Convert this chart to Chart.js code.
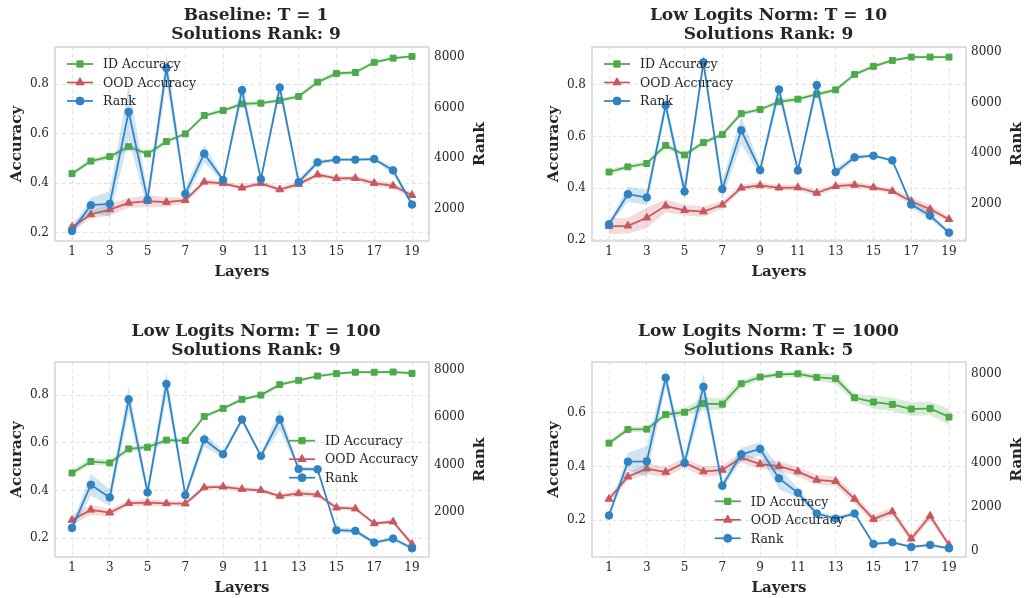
<!DOCTYPE html>
<html><head><meta charset="utf-8">
<script src="https://cdn.jsdelivr.net/npm/chart.js@4.4.0/dist/chart.umd.min.js"></script>
<style>
body{margin:0;background:#fff;width:1025px;height:598px;overflow:hidden;position:relative}
canvas{position:absolute;display:block}
</style>
</head><body>
<canvas id="c0"></canvas><canvas id="c1"></canvas><canvas id="c2"></canvas><canvas id="c3"></canvas>
<script>
// ---------------- data ----------------
const layers = [1,2,3,4,5,6,7,8,9,10,11,12,13,14,15,16,17,18,19];
const xTickValues = [1,3,5,7,9,11,13,15,17,19];
const accTicksA = [0.2,0.4,0.6,0.8];
const accTicksB = [0.2,0.4,0.6];
const rankTicksA = [2000,4000,6000,8000];
const rankTicksB = [0,2000,4000,6000,8000];
const seriesNames = ["ID Accuracy","OOD Accuracy","Rank"];
const titles = [
  ["Baseline: T = 1","Solutions Rank: 9"],
  ["Low Logits Norm: T = 10","Solutions Rank: 9"],
  ["Low Logits Norm: T = 100","Solutions Rank: 9"],
  ["Low Logits Norm: T = 1000","Solutions Rank: 5"]
];

// Panel 1: Baseline T = 1
const id1 = [0.438,0.489,0.507,0.547,0.518,0.568,0.599,0.673,0.693,0.720,0.723,0.734,0.750,0.808,0.843,0.847,0.888,0.905,0.912];
const idStd1 = [0.010,0.010,0.012,0.012,0.010,0.010,0.008,0.008,0.008,0.010,0.008,0.008,0.010,0.010,0.010,0.008,0.008,0.006,0.006];
const ood1 = [0.223,0.273,0.293,0.320,0.327,0.323,0.331,0.405,0.399,0.381,0.399,0.374,0.396,0.434,0.419,0.420,0.400,0.389,0.351];
const oodStd1 = [0.020,0.015,0.025,0.020,0.025,0.020,0.012,0.012,0.010,0.010,0.010,0.010,0.010,0.010,0.010,0.010,0.012,0.012,0.010];
const rank1 = [1113,2132,2185,5828,2344,7563,2583,4172,3126,6689,3166,6795,3046,3828,3934,3934,3960,3510,2159];
const rankStd1 = [120,300,500,1100,350,600,250,350,100,400,100,300,150,100,60,60,60,150,100];

// Panel 2: T = 10
const id2 = [0.462,0.482,0.495,0.565,0.528,0.576,0.607,0.688,0.704,0.734,0.744,0.763,0.780,0.840,0.871,0.894,0.907,0.907,0.907];
const idStd2 = [0.010,0.010,0.010,0.010,0.010,0.010,0.010,0.010,0.008,0.010,0.008,0.010,0.008,0.008,0.008,0.006,0.006,0.006,0.006];
const ood2 = [0.252,0.254,0.285,0.331,0.314,0.309,0.335,0.401,0.410,0.401,0.402,0.381,0.407,0.412,0.402,0.388,0.349,0.318,0.279];
const oodStd2 = [0.030,0.030,0.040,0.025,0.020,0.020,0.015,0.012,0.012,0.010,0.012,0.010,0.012,0.012,0.010,0.010,0.015,0.015,0.010];
const rank2 = [1179,2371,2238,5894,2477,7589,2570,4901,3325,6517,3311,6689,3245,3828,3894,3709,1960,1523,848];
const rankStd2 = [100,300,300,300,350,300,350,550,200,350,100,350,150,100,60,60,150,150,80];

// Panel 3: T = 100
const id3 = [0.474,0.522,0.516,0.575,0.582,0.612,0.610,0.711,0.745,0.783,0.801,0.845,0.863,0.881,0.891,0.897,0.897,0.898,0.892];
const idStd3 = [0.012,0.015,0.012,0.010,0.015,0.010,0.008,0.008,0.008,0.008,0.008,0.008,0.006,0.006,0.006,0.006,0.006,0.006,0.006];
const ood3 = [0.276,0.319,0.307,0.347,0.349,0.346,0.345,0.413,0.416,0.406,0.401,0.377,0.388,0.383,0.328,0.324,0.262,0.269,0.175];
const oodStd3 = [0.020,0.022,0.015,0.012,0.015,0.010,0.010,0.010,0.010,0.010,0.008,0.010,0.012,0.010,0.010,0.008,0.008,0.008,0.012];
const rank3 = [1322,3144,2607,6746,2819,7395,2706,5051,4429,5898,4359,5898,3808,3794,1223,1195,701,870,460];
const rankStd3 = [150,450,350,550,250,550,150,300,150,100,100,450,100,80,100,100,80,80,80];

// Panel 4: T = 1000
const id4 = [0.487,0.538,0.539,0.593,0.602,0.634,0.632,0.708,0.733,0.743,0.745,0.732,0.727,0.656,0.640,0.631,0.614,0.616,0.584];
const idStd4 = [0.010,0.010,0.010,0.012,0.015,0.025,0.020,0.015,0.010,0.010,0.010,0.012,0.020,0.015,0.025,0.025,0.025,0.025,0.030];
const ood4 = [0.279,0.362,0.392,0.379,0.414,0.381,0.387,0.433,0.409,0.401,0.381,0.350,0.345,0.279,0.204,0.232,0.131,0.216,0.108];
const oodStd4 = [0.015,0.015,0.020,0.020,0.018,0.020,0.018,0.018,0.018,0.018,0.018,0.018,0.018,0.018,0.015,0.015,0.015,0.015,0.012];
const rank4 = [1604,4039,4054,7837,3979,7428,2950,4372,4614,3283,2632,1694,1467,1694,318,393,182,272,121];
const rankStd4 = [100,400,700,400,300,600,200,300,300,500,200,120,100,80,80,60,60,60,60];

// ---------------- layout / style ----------------
const GREEN = '#4daa4a', RED = '#c8585b', BLUE = '#2f83c3';
const FONT = "'DejaVu Serif', serif";
const TXT = '#262626';
const TITLE_SIZE = 17, TITLE_LH = 1.12, AXT_SIZE = 15, TICK_SIZE = 12, LEG_SIZE = 12.5;

const panels = [
  {canvas:{left:0,top:0,w:512,h:299}, area:{l:55,t:47,r:429,b:241}, padBottom:17, titleY:15.2, accTitleX:17,
   accRange:[0.166,0.95], accTicks:accTicksA, rankRange:[715,8397], rankTicks:rankTicksA,
   legend:{x:12,y:17}, id:id1, idStd:idStd1, ood:ood1, oodStd:oodStd1, rank:rank1, rankStd:rankStd1},
  {canvas:{left:512,top:0,w:513,h:299}, area:{l:80,t:47,r:454,b:241}, padBottom:17, titleY:15.2, accTitleX:42,
   accRange:[0.195,0.946], accTicks:accTicksA, rankRange:[517,8199], rankTicks:rankTicksA,
   legend:{x:12,y:17}, id:id2, idStd:idStd2, ood:ood2, oodStd:oodStd2, rank:rank2, rankStd:rankStd2},
  {canvas:{left:0,top:299,w:512,h:299}, area:{l:55,t:63,r:429,b:258}, padBottom:0, titleY:32.8, accTitleX:17,
   accRange:[0.121,0.940], accTicks:accTicksA, rankRange:[93,8325], rankTicks:rankTicksA,
   legend:{x:234,y:78.7}, id:id3, idStd:idStd3, ood:ood3, oodStd:oodStd3, rank:rank3, rankStd:rankStd3},
  {canvas:{left:512,top:299,w:513,h:299}, area:{l:80,t:63,r:454,b:258}, padBottom:0, titleY:32.8, accTitleX:42,
   accRange:[0.063,0.789], accTicks:accTicksB, rankRange:[-272,8548], rankTicks:rankTicksB,
   legend:{x:122.7,y:139.3}, id:id4, idStd:idStd4, ood:ood4, oodStd:oodStd4, rank:rank4, rankStd:rankStd4}
];

function rgba(hex,a){const n=parseInt(hex.slice(1),16);return `rgba(${n>>16&255},${n>>8&255},${n&255},${a})`;}
function pts(arr){return layers.map((l,i)=>({x:l,y:arr[i]}));}
function band(arr,sd,s){return layers.map((l,i)=>({x:l,y:arr[i]+s*sd[i]}));}

const extras = {
  id:'extras',
  afterDatasetsDraw(chart){
    const p = chart.options.plugins.extras;
    const {ctx, chartArea:a} = chart;
    ctx.save();
    // frame
    ctx.strokeStyle = '#cccccc'; ctx.lineWidth = 1.25;
    ctx.strokeRect(a.left, a.top, a.right-a.left, a.bottom-a.top);
    // legend
    const styles = [
      {c:GREEN, ps:'rect', r:4.4},
      {c:RED, ps:'triangle', r:4.7},
      {c:BLUE, ps:'circle', r:4}
    ];
    ctx.font = `${LEG_SIZE}px ${FONT}`;
    ctx.textBaseline = 'middle'; ctx.textAlign = 'left';
    styles.forEach((s,i)=>{
      const y = a.top + p.legend.y + i*18.5;
      const x0 = a.left + p.legend.x;
      ctx.strokeStyle = s.c; ctx.lineWidth = 1.75;
      ctx.beginPath(); ctx.moveTo(x0,y); ctx.lineTo(x0+26,y); ctx.stroke();
      ctx.fillStyle = s.c; ctx.strokeStyle = s.c; ctx.lineWidth = 1;
      Chart.helpers.drawPoint(ctx,{pointStyle:s.ps, radius:s.r, rotation:0, borderWidth:1}, x0+13, y);
      ctx.fillStyle = TXT;
      ctx.fillText(seriesNames[i], x0+36, y+1);
    });
    // right axis title
    ctx.translate(a.right+51, (a.top+a.bottom)/2);
    ctx.rotate(-Math.PI/2);
    ctx.font = `bold ${AXT_SIZE}px ${FONT}`;
    ctx.textAlign = 'center'; ctx.textBaseline = 'middle';
    ctx.fillStyle = TXT;
    ctx.fillText('Rank', 0, 0);
    ctx.restore();
  }
};

panels.forEach((P,k)=>{
  const cv = document.getElementById('c'+k);
  cv.width = P.canvas.w; cv.height = P.canvas.h;
  cv.style.left = P.canvas.left+'px'; cv.style.top = P.canvas.top+'px';
  cv.style.width = P.canvas.w+'px'; cv.style.height = P.canvas.h+'px';
  const base = {borderWidth:1.75, tension:0, pointBorderWidth:1, pointHoverRadius:0};
  const bandDs = (lbl,arr,sd,c,axis,order)=>[
    {label:'_'+lbl+'lo', data:band(arr,sd,-1), yAxisID:axis, borderWidth:0, pointRadius:0, fill:false, order:order},
    {label:'_'+lbl+'hi', data:band(arr,sd,1), yAxisID:axis, borderWidth:0, pointRadius:0, fill:'-1', backgroundColor:rgba(c,0.22), order:order}
  ];
  const datasets = [
    ...bandDs('id',P.id,P.idStd,GREEN,'y',20),
    ...bandDs('ood',P.ood,P.oodStd,RED,'y',20),
    ...bandDs('rank',P.rank,P.rankStd,BLUE,'y1',5),
    {...base, label:seriesNames[0], data:pts(P.id), yAxisID:'y', borderColor:GREEN, backgroundColor:GREEN, pointStyle:'rect', pointRadius:4.2, order:12},
    {...base, label:seriesNames[1], data:pts(P.ood), yAxisID:'y', borderColor:RED, backgroundColor:RED, pointStyle:'triangle', pointRadius:4.5, order:11},
    {...base, label:seriesNames[2], data:pts(P.rank), yAxisID:'y1', borderColor:BLUE, backgroundColor:BLUE, pointStyle:'circle', pointRadius:3.8, order:0}
  ];
  const a = P.area;
  const tlh = TITLE_SIZE*TITLE_LH;
  const tPadTop = P.titleY - tlh/2;
  const axLH = AXT_SIZE*1.2;
  new Chart(cv, {
    type:'line',
    data:{datasets},
    options:{
      responsive:false, animation:false, events:[],
      layout:{padding:{left:0,right:0,top:0,bottom:P.padBottom}},
      plugins:{
        legend:{display:false}, tooltip:{enabled:false},
        title:{display:true, text:titles[k], color:TXT, font:{family:FONT, size:TITLE_SIZE, weight:'bold', lineHeight:TITLE_LH},
               padding:{top:tPadTop, bottom:a.t-tPadTop-2*tlh}},
        extras:{legend:P.legend}
      },
      scales:{
        x:{type:'linear', position:'bottom', min:0.1, max:19.9,
           afterBuildTicks:(ax)=>{ax.ticks = xTickValues.map(v=>({value:v}));},
           afterFit:(ax)=>{ax.height = P.canvas.h - P.padBottom - a.b;},
           grid:{color:'#e4e4e4', lineWidth:1, drawTicks:false},
           border:{display:false, dash:[4,3]},
           ticks:{color:TXT, font:{family:FONT,size:TICK_SIZE}, padding:4, maxRotation:0, autoSkip:false, callback:(v)=>String(v)},
           title:{display:true, text:'Layers', color:TXT, font:{family:FONT,size:AXT_SIZE,weight:'bold'}, padding:{top:0,bottom:10-axLH/2}}},
        y:{type:'linear', position:'left', min:P.accRange[0], max:P.accRange[1],
           afterBuildTicks:(ax)=>{ax.ticks = P.accTicks.map(v=>({value:v}));},
           afterFit:(ax)=>{ax.width = a.l;},
           grid:{color:'#e4e4e4', lineWidth:1, drawTicks:false},
           border:{display:false, dash:[4,3]},
           ticks:{color:TXT, font:{family:FONT,size:TICK_SIZE}, padding:6, callback:(v)=>v.toFixed(1)},
           title:{display:true, text:'Accuracy', color:TXT, font:{family:FONT,size:AXT_SIZE,weight:'bold'}, padding:{top:P.accTitleX-axLH/2,bottom:0}}},
        y1:{type:'linear', position:'right', min:P.rankRange[0], max:P.rankRange[1],
           afterBuildTicks:(ax)=>{ax.ticks = P.rankTicks.map(v=>({value:v}));},
           afterFit:(ax)=>{ax.width = P.canvas.w - a.r;},
           grid:{display:false, drawTicks:false},
           border:{display:false},
           ticks:{color:TXT, font:{family:FONT,size:TICK_SIZE}, padding:5, callback:(v)=>String(v)}}
      }
    },
    plugins:[extras]
  });
});
</script>
</body></html>
